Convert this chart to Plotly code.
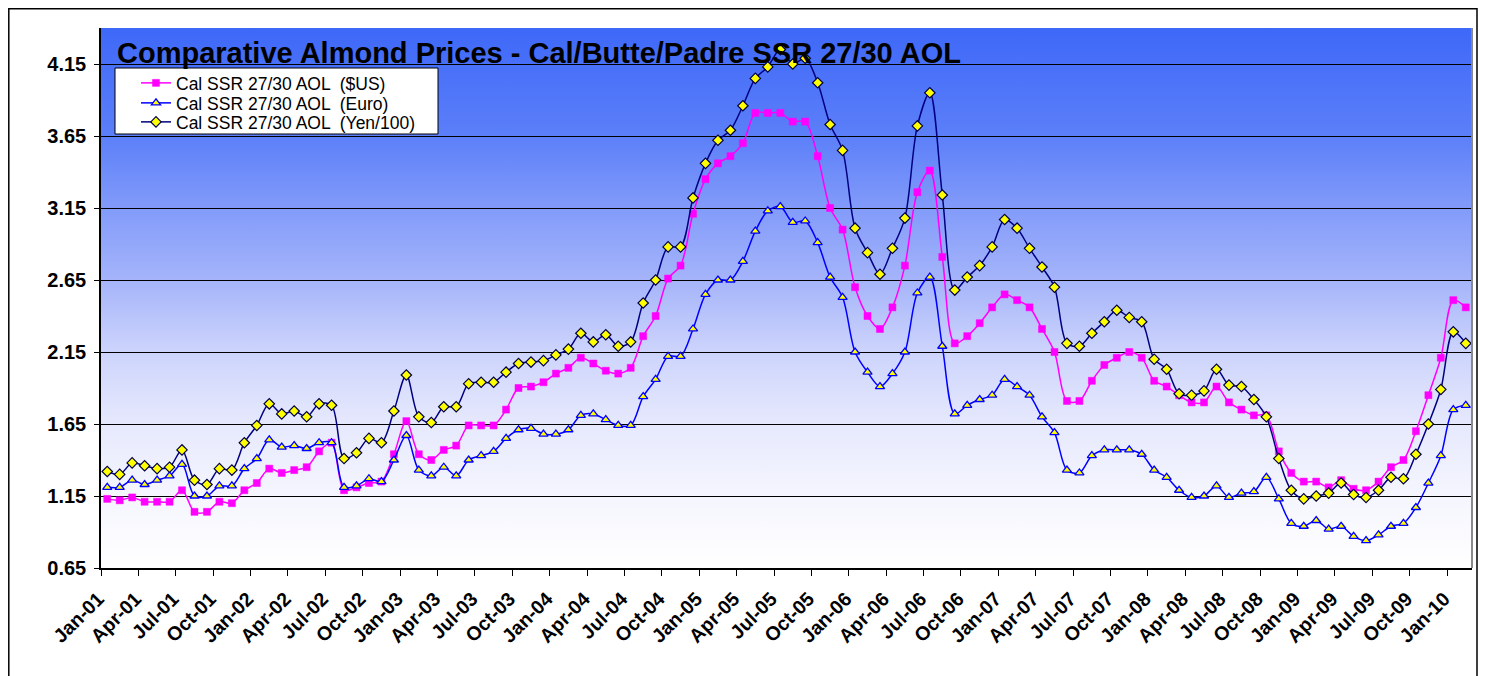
import base64
import plotly.graph_objects as go

# ---------------- data ----------------
month_names = ["Jan", "Feb", "Mar", "Apr", "May", "Jun",
               "Jul", "Aug", "Sep", "Oct", "Nov", "Dec"]
months = [f"{m}-{y:02d}" for y in range(1, 11) for m in month_names][:110]

usd = [1.13, 1.12, 1.14, 1.11, 1.11, 1.11, 1.19, 1.04, 1.04, 1.11, 1.10, 1.19,
       1.24, 1.34, 1.31, 1.33, 1.35, 1.46, 1.52, 1.19, 1.21, 1.24, 1.25,
       1.44, 1.67, 1.44, 1.40, 1.47, 1.50, 1.64, 1.64, 1.64, 1.75, 1.90, 1.91,
       1.94, 2.00, 2.04, 2.11, 2.07, 2.02, 2.00, 2.04, 2.26, 2.40,
       2.66, 2.75, 3.11, 3.35, 3.46, 3.51, 3.60, 3.81, 3.81, 3.81, 3.75, 3.75,
       3.51, 3.15, 3.00, 2.60, 2.40, 2.31, 2.46, 2.75, 3.26, 3.41,
       2.81, 2.21, 2.26, 2.35, 2.46, 2.55, 2.51, 2.46, 2.31, 2.15, 1.81, 1.81,
       1.95, 2.06, 2.11, 2.15, 2.11, 1.95, 1.91, 1.85, 1.80,
       1.80, 1.91, 1.80, 1.75, 1.71, 1.71, 1.46, 1.31, 1.25, 1.25, 1.21, 1.26,
       1.20, 1.19, 1.25, 1.35, 1.40, 1.60, 1.85, 2.11, 2.51, 2.46]

euro = [1.21, 1.21, 1.26, 1.23, 1.26, 1.29, 1.37, 1.15, 1.15, 1.22, 1.22, 1.34,
        1.41, 1.54, 1.49, 1.50, 1.48, 1.52, 1.52, 1.21, 1.22, 1.27, 1.25,
        1.40, 1.57, 1.33, 1.29, 1.35, 1.29, 1.40, 1.43, 1.46, 1.55, 1.61, 1.62,
        1.58, 1.58, 1.61, 1.71, 1.72, 1.68, 1.64, 1.64, 1.84, 1.96,
        2.12, 2.12, 2.31, 2.55, 2.65, 2.65, 2.78, 2.99, 3.13, 3.16, 3.05, 3.06,
        2.91, 2.67, 2.53, 2.15, 2.01, 1.91, 2.00, 2.15, 2.56, 2.67,
        2.19, 1.72, 1.78, 1.82, 1.85, 1.96, 1.91, 1.85, 1.70, 1.59, 1.33, 1.31,
        1.43, 1.47, 1.47, 1.47, 1.44, 1.33, 1.28, 1.19, 1.14,
        1.15, 1.22, 1.14, 1.17, 1.18, 1.28, 1.13, 0.96, 0.94, 0.98, 0.92, 0.94,
        0.87, 0.84, 0.88, 0.94, 0.96, 1.07, 1.24, 1.43, 1.75, 1.78]

yen100 = [1.32, 1.30, 1.38, 1.36, 1.34, 1.35, 1.47, 1.26, 1.23, 1.34, 1.33, 1.52,
          1.64, 1.79, 1.72, 1.74, 1.70, 1.79, 1.78, 1.41, 1.45, 1.55, 1.52,
          1.74, 1.99, 1.70, 1.66, 1.77, 1.77, 1.93, 1.94, 1.94, 2.01, 2.07, 2.08,
          2.09, 2.13, 2.17, 2.28, 2.22, 2.27, 2.19, 2.22, 2.49, 2.65,
          2.88, 2.88, 3.22, 3.46, 3.62, 3.69, 3.86, 4.05, 4.13, 4.25, 4.15, 4.19,
          4.02, 3.73, 3.55, 3.01, 2.84, 2.69, 2.87, 3.08, 3.72, 3.95,
          3.24, 2.58, 2.67, 2.75, 2.88, 3.07, 3.01, 2.87, 2.74, 2.60, 2.21, 2.19,
          2.28, 2.36, 2.44, 2.39, 2.36, 2.10, 2.03, 1.86, 1.85,
          1.88, 2.03, 1.92, 1.91, 1.82, 1.70, 1.41, 1.19, 1.13, 1.15, 1.17, 1.24,
          1.16, 1.14, 1.19, 1.28, 1.27, 1.44, 1.65, 1.89, 2.29, 2.21]

series_names = ["Cal SSR 27/30 AOL \u00a0($US)",
                "Cal SSR 27/30 AOL \u00a0(Euro)",
                "Cal SSR 27/30 AOL \u00a0(Yen/100)"]
title_text = "Comparative Almond Prices - Cal/Butte/Padre SSR 27/30 AOL"
y_ticks = [0.65, 1.15, 1.65, 2.15, 2.65, 3.15, 3.65, 4.15]

# ---------------- layout geometry (page pixels) ----------------
OFF = 8                       # page body margin in front of the figure
W, H = 1486 - OFF, 676 - OFF  # figure size
L, R, T, B = 101, 1472, 28, 568   # plot area, page pixels


def px_x(x):
    return (x - L) / (R - L)


def px_y(y):
    return (B - y) / (B - T)


idx = list(range(len(months)))
FONT = "Arial, Liberation Sans, sans-serif"

fig = go.Figure()
fig.add_trace(go.Scatter(
    x=idx, y=usd, name=series_names[0], mode="lines+markers", legend="legend",
    line=dict(color="#FF00FF", width=1.5, shape="spline", smoothing=0.9),
    marker=dict(symbol="square", size=7, color="#FF00FF",
                line=dict(color="#FF00FF", width=0.5))))
fig.add_trace(go.Scatter(
    x=idx, y=euro, name=series_names[1], mode="lines+markers", legend="legend2",
    line=dict(color="#0000FF", width=1.5, shape="spline", smoothing=0.9),
    marker=dict(symbol="triangle-up", size=8, color="#FFFF00",
                line=dict(color="#0000FF", width=1.3))))
fig.add_trace(go.Scatter(
    x=idx, y=yen100, name=series_names[2], mode="lines+markers", legend="legend3",
    line=dict(color="#000080", width=1.5, shape="spline", smoothing=0.9),
    marker=dict(symbol="diamond", size=8, color="#FFFF00",
                line=dict(color="#000040", width=1.2))))

# gradient background for plot area
svg = ('<svg xmlns="http://www.w3.org/2000/svg" width="100" height="100" '
       'viewBox="0 0 100 100" preserveAspectRatio="none"><defs>'
       '<linearGradient id="g" x1="0" y1="0" x2="0" y2="1">'
       '<stop offset="0" stop-color="rgb(62,104,248)"/>'
       '<stop offset="0.2" stop-color="rgb(92,127,249)"/>'
       '<stop offset="0.333" stop-color="rgb(130,155,250)"/>'
       '<stop offset="0.467" stop-color="rgb(165,180,250)"/>'
       '<stop offset="0.6" stop-color="rgb(205,212,252)"/>'
       '<stop offset="0.733" stop-color="rgb(230,233,253)"/>'
       '<stop offset="0.87" stop-color="rgb(245,246,254)"/>'
       '<stop offset="1" stop-color="rgb(255,255,255)"/>'
       '</linearGradient></defs>'
       '<rect width="100" height="100" fill="url(#g)"/></svg>')
src = "data:image/svg+xml;base64," + base64.b64encode(svg.encode()).decode()


def legend_at(top_px):
    return dict(x=px_x(136), y=px_y(top_px), xanchor="left", yanchor="top",
                bgcolor="rgba(0,0,0,0)", borderwidth=0,
                font=dict(family=FONT, size=17.5, color="black"),
                itemwidth=30, tracegroupgap=0)


fig.update_layout(
    width=W, height=H,
    margin=dict(l=L - OFF, r=W - (R - OFF), t=T - OFF, b=H - (B - OFF)),
    paper_bgcolor="white",
    plot_bgcolor="rgba(0,0,0,0)",
    font=dict(family=FONT, color="black"),
    images=[dict(source=src, xref="paper", yref="paper", x=0, y=1,
                 sizex=1, sizey=1, sizing="stretch", layer="below",
                 xanchor="left", yanchor="top")],
    showlegend=True,
    legend=legend_at(65),
    legend2=legend_at(85),
    legend3=legend_at(104),
    annotations=[dict(text=title_text, xref="paper", yref="paper",
                      x=px_x(115), y=px_y(53), xanchor="left", yanchor="middle",
                      showarrow=False,
                      font=dict(family=FONT, size=29, color="black", weight="bold"))],
    shapes=[
        # legend box
        dict(type="rect", xref="paper", yref="paper",
             x0=px_x(115), x1=px_x(438), y0=px_y(68), y1=px_y(134),
             fillcolor="white", line=dict(color="black", width=1), layer="below"),
        # outer chart frame
        dict(type="rect", xref="paper", yref="paper",
             x0=px_x(OFF + 0.8), x1=px_x(1477), y0=px_y(OFF + 0.8), y1=px_y(700),
             line=dict(color="black", width=1.5), layer="above"),
        # plot-area right edge
        dict(type="line", xref="paper", yref="paper", x0=1, x1=1, y0=0, y1=1,
             line=dict(color="#8a8a8a", width=2)),
    ],
)

fig.update_xaxes(
    range=[-0.5, len(months) - 0.5],
    tickmode="array", tickvals=idx[::3], ticktext=months[::3],
    tickangle=-45, tickfont=dict(family=FONT, size=19.5, weight="bold"),
    ticks="outside", ticklen=6, tickcolor="rgba(0,0,0,0)",
    ticklabelstandoff=4, ticklabelshift=-9,
    minor=dict(tickmode="array",
               tickvals=[i - 0.5 for i in idx[::3]],
               ticks="outside", ticklen=6, tickcolor="black", showgrid=False),
    showline=True, linecolor="black", linewidth=1.5,
    showgrid=False, zeroline=False,
)
fig.update_yaxes(
    range=[0.65, 4.40],
    tickmode="array", tickvals=y_ticks, ticktext=[f"{v:.2f}" for v in y_ticks],
    tickfont=dict(family=FONT, size=20, weight="bold"),
    ticks="outside", ticklen=5, tickcolor="black", ticklabelstandoff=4,
    showline=True, linecolor="black", linewidth=1.5,
    showgrid=True, gridcolor="black", gridwidth=1, zeroline=False,
)

fig.write_html("out.html")
